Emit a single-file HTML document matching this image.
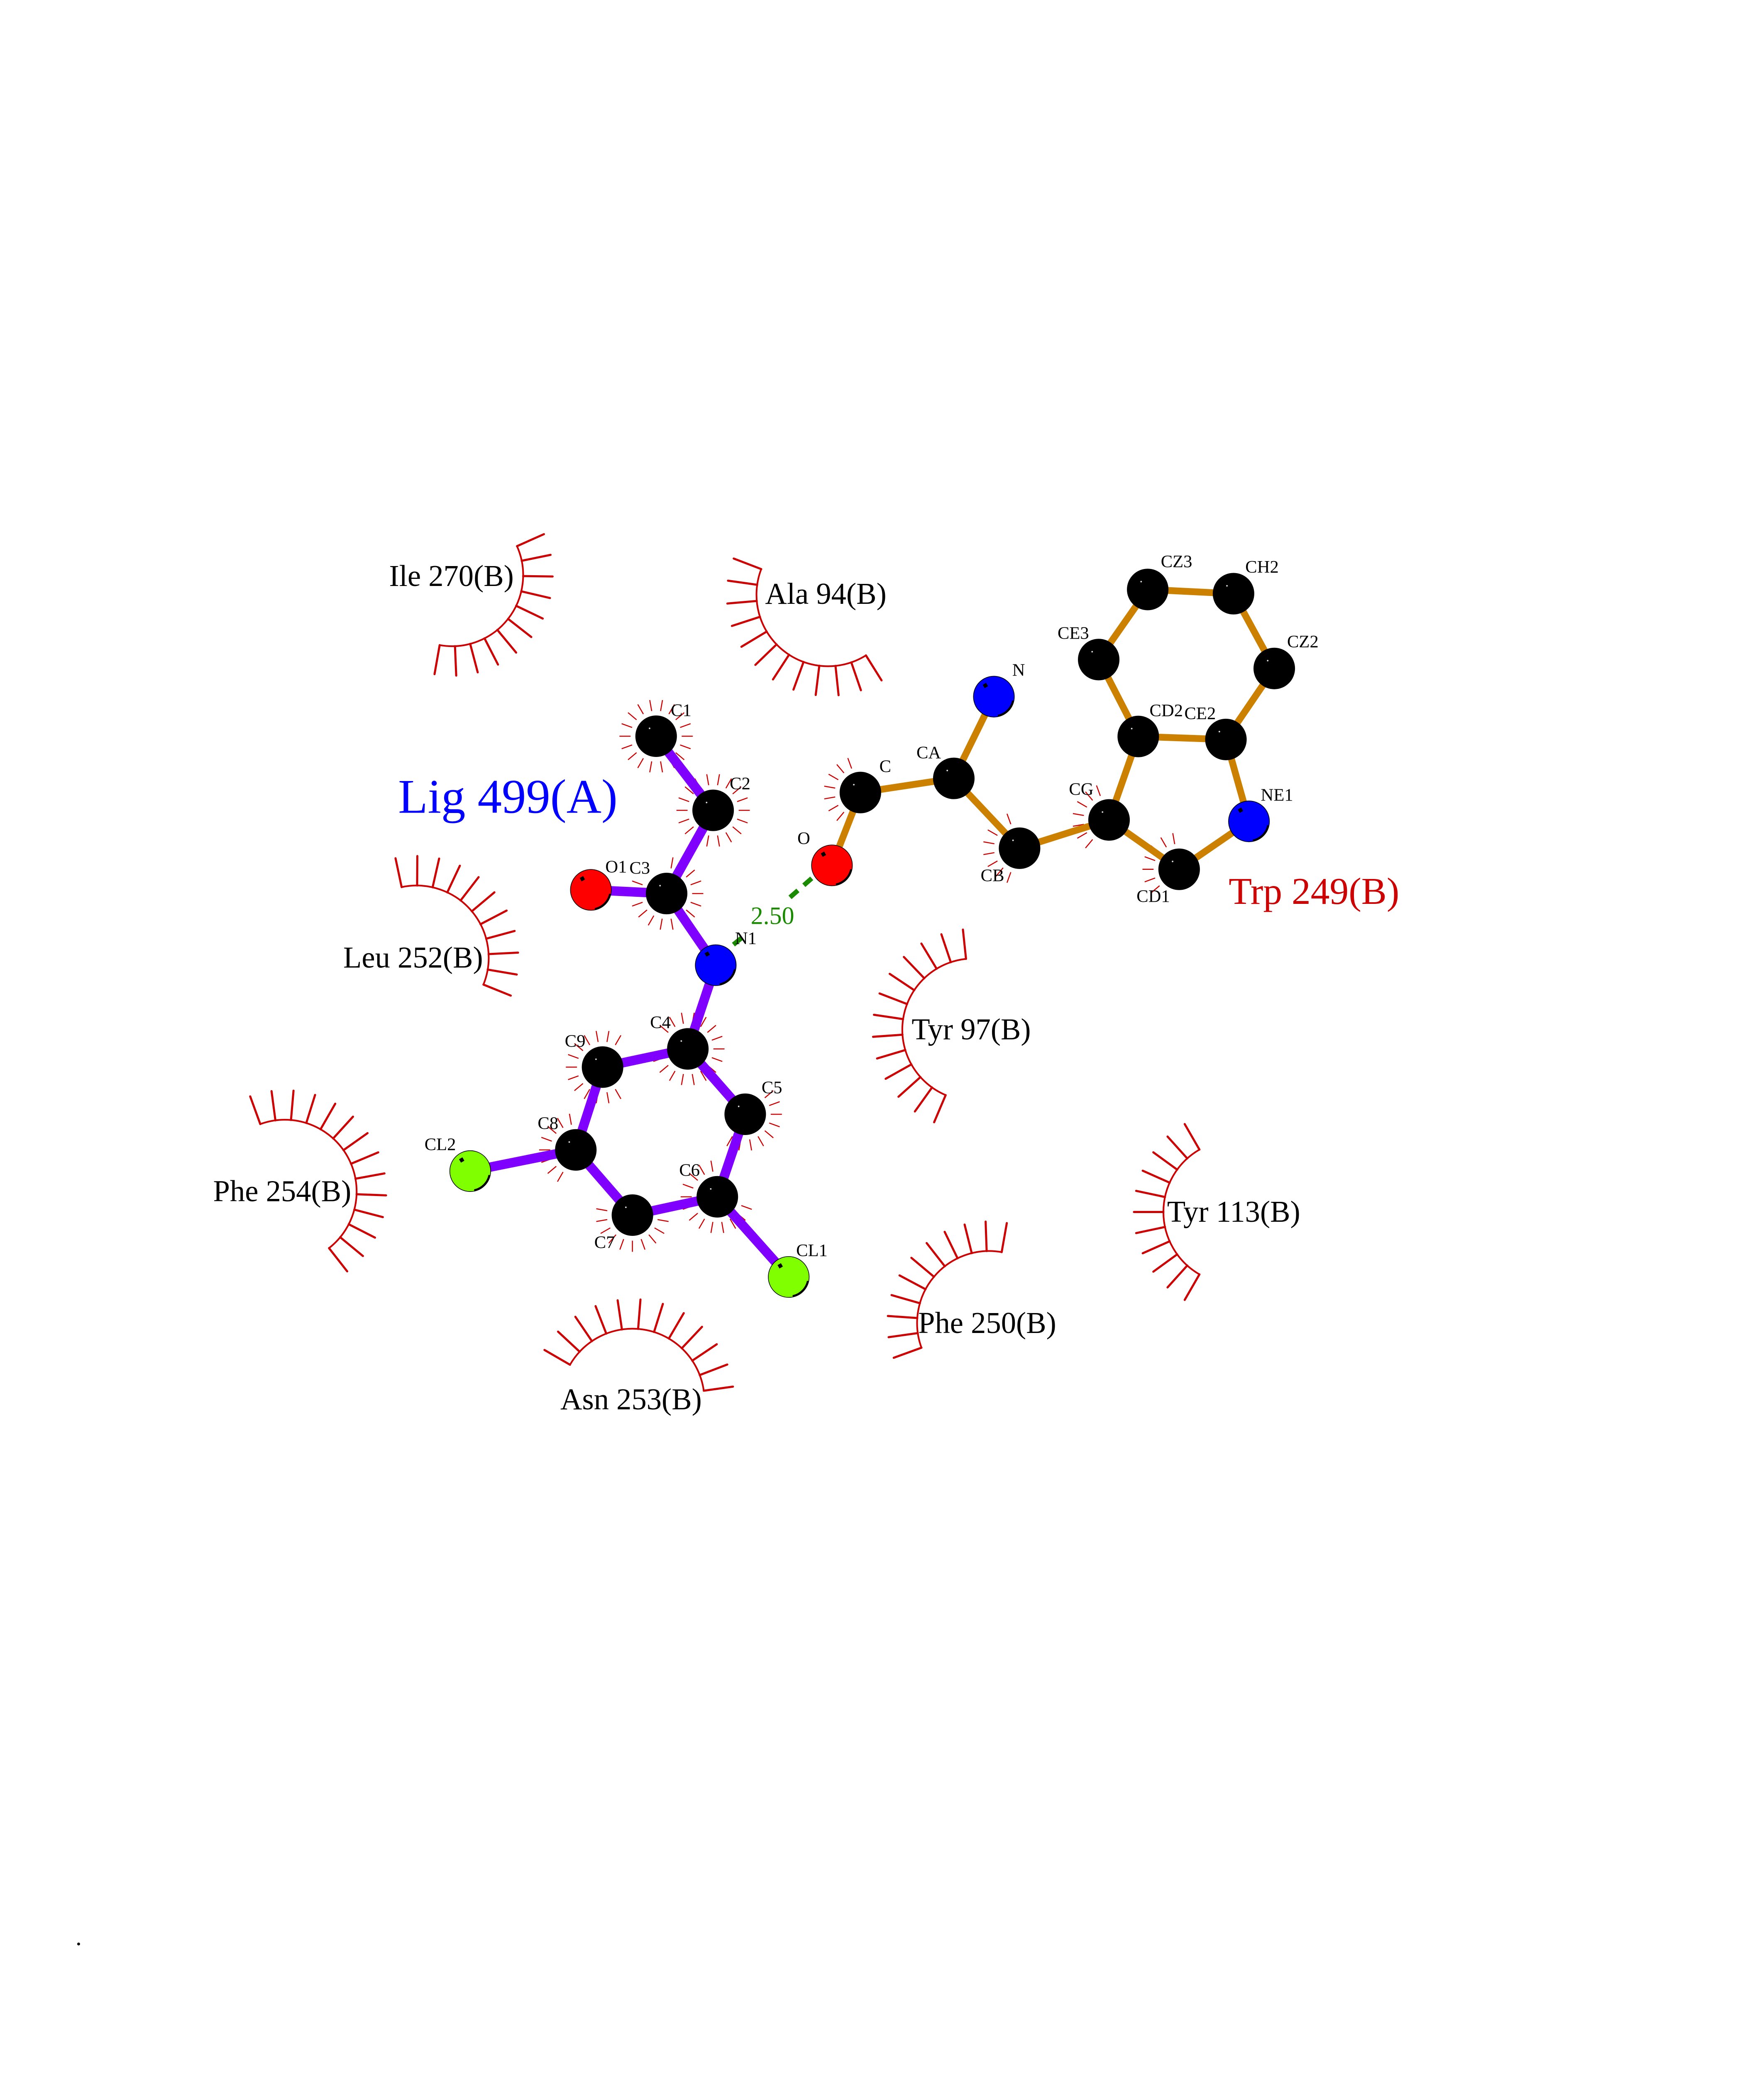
<!DOCTYPE html>
<html>
<head>
<meta charset="utf-8">
<style>
html,body{margin:0;padding:0;background:#fff;width:100%;height:100%;overflow:hidden;}
svg{position:fixed;left:0;top:0;height:100vh;width:77.2727vh;display:block;}
text{font-family:"Liberation Serif",serif;}
</style>
</head>
<body>
<svg id="s" xmlns="http://www.w3.org/2000/svg" viewBox="0 0 1224 1584" preserveAspectRatio="xMinYMin meet">
<rect x="0" y="0" width="1224" height="1584" fill="#fff"/>
<g id="arcs"></g>
<g id="spk"></g>
<g id="bonds"></g>
<line x1="549" y1="730" x2="566" y2="716" stroke="#1a8a00" stroke-width="3.6" stroke-dasharray="8,6"/>
<line x1="603" y1="685" x2="627" y2="664" stroke="#1a8a00" stroke-width="3.6" stroke-dasharray="8,6"/>
<g id="atoms"></g>
<g font-size="23" fill="#000">
<text x="297" y="447.3">Ile 270(B)</text>
<text x="584" y="461">Ala 94(B)</text>
<text x="262" y="738.7">Leu 252(B)</text>
<text x="695.8" y="793.5">Tyr 97(B)</text>
<text x="162.7" y="917">Phe 254(B)</text>
<text x="890.8" y="932.6">Tyr 113(B)</text>
<text x="700.8" y="1017.6">Phe 250(B)</text>
<text x="427.7" y="1075.8">Asn 253(B)</text>
</g>
<text x="303.9" y="620.5" font-size="37" fill="#0000ff">Lig 499(A)</text>
<text x="937.8" y="690" font-size="29" fill="#cc0000">Trp 249(B)</text>
<text x="573" y="705.3" font-size="19" fill="#1a8a00">2.50</text>
<g font-size="13.5" fill="#000">
<text x="512" y="546.6">C1</text>
<text x="557" y="602.5">C2</text>
<text x="462" y="666">O1</text>
<text x="480.4" y="667">C3</text>
<text x="561" y="720.8">N1</text>
<text x="496.2" y="784.9">C4</text>
<text x="431.1" y="799.2">C9</text>
<text x="581.3" y="834.6">C5</text>
<text x="410.4" y="861.8">C8</text>
<text x="324" y="878">CL2</text>
<text x="518.4" y="897.7">C6</text>
<text x="453.6" y="952.8">C7</text>
<text x="607.7" y="959">CL1</text>
<text x="608.6" y="644.3">O</text>
<text x="671.2" y="589.4">C</text>
<text x="699.5" y="579">CA</text>
<text x="772.6" y="515.9">N</text>
<text x="748.5" y="672.7">CB</text>
<text x="815.9" y="606.9">CG</text>
<text x="867.5" y="688.6">CD1</text>
<text x="877.4" y="546.8">CD2</text>
<text x="904" y="549">CE2</text>
<text x="962.3" y="611.2">NE1</text>
<text x="807.2" y="487.7">CE3</text>
<text x="886" y="433">CZ3</text>
<text x="950.5" y="437.2">CH2</text>
<text x="982.4" y="494.2">CZ2</text>
</g>
<circle cx="60" cy="1484" r="1.1" fill="#000"/>
</svg>
<script>
(function(){
var NS="http://www.w3.org/2000/svg";
function el(p,n,a){var e=document.createElementNS(NS,n);for(var k in a)e.setAttribute(k,a[k]);p.appendChild(e);return e;}
var A={
C1:[500.8,562,'c'],C2:[544.3,618.6,'c'],C3:[508.8,682.1,'c'],O1:[451,679.3,'o'],N1:[546.3,736.8,'n'],
C4:[525,800.7,'c'],C9:[459.9,814.6,'c'],C5:[568.8,850.6,'c'],C8:[439.5,877.8,'c'],CL2:[358.9,894,'cl'],
C6:[547.5,913.6,'c'],C7:[482.7,927.6,'c'],CL1:[602,974.8,'cl'],
N:[758.6,531.8,'n'],CA:[728,594.2,'c'],C:[656.7,605,'c'],O:[635,660.6,'o'],CB:[778.2,647.5,'c'],
CG:[846.5,625.9,'c'],CD1:[900,663.6,'c'],NE1:[953.3,627,'n'],CE2:[935.7,564.5,'c'],CD2:[868.8,562.2,'c'],
CE3:[838.6,503.5,'c'],CZ3:[876,450,'c'],CH2:[941.5,453.2,'c'],CZ2:[972.6,510.3,'c']};
var LB=[['C1','C2'],['C2','C3'],['C3','O1'],['C3','N1'],['N1','C4'],['C4','C9'],['C4','C5'],['C9','C8'],['C8','CL2'],['C8','C7'],['C7','C6'],['C6','C5'],['C6','CL1']];
var TB=[['N','CA'],['CA','C'],['C','O'],['CA','CB'],['CB','CG'],['CG','CD1'],['CD1','NE1'],['NE1','CE2'],['CE2','CD2'],['CD2','CG'],['CD2','CE3'],['CE3','CZ3'],['CZ3','CH2'],['CH2','CZ2'],['CZ2','CE2']];
var gb=document.getElementById('bonds');
LB.forEach(function(b){var p=A[b[0]],q=A[b[1]];el(gb,'line',{x1:p[0],y1:p[1],x2:q[0],y2:q[1],stroke:'#8000ff','stroke-width':7.2});});
TB.forEach(function(b){var p=A[b[0]],q=A[b[1]];el(gb,'line',{x1:p[0],y1:p[1],x2:q[0],y2:q[1],stroke:'#cc8000','stroke-width':5.2});});
var SP={C1:[0,340],C2:[0,340],C3:[-80,200],C9:[60,300],C4:[-140,160],C5:[-40,130],C8:[120,260],C6:[20,260],C7:[-10,200],C:[110,250],CB:[110,260],CG:[130,250],CD1:[140,260]};
var gs=document.getElementById('spk');
for(var k in SP){var a=A[k],r=SP[k];for(var t=r[0];t<=r[1]+0.1;t+=20){var rad=t*Math.PI/180,c=Math.cos(rad),s=Math.sin(rad);
el(gs,'line',{x1:a[0]+19.5*c,y1:a[1]+19.5*s,x2:a[0]+28*c,y2:a[1]+28*s,stroke:'#cc0000','stroke-width':0.8});}}
var COL={c:'#000',o:'#ff0000',n:'#0000ff',cl:'#80ff00'};
var ga=document.getElementById('atoms');
for(var k in A){var a=A[k];el(ga,'circle',{cx:a[0],cy:a[1],r:15.6,fill:COL[a[2]],stroke:'#000','stroke-width':0.5});
if(a[2]!='c'){el(ga,'path',{d:'M'+(a[0]+3)+','+(a[1]+14.5)+' A15,15 0 0 0 '+(a[0]+14.5)+','+(a[1]+3),fill:'none',stroke:'#000','stroke-width':1.2});
el(ga,'rect',{x:a[0]-8,y:a[1]-10,width:3,height:3,fill:'#000',transform:'rotate(-30 '+(a[0]-6.5)+' '+(a[1]-8.5)+')'});}
else{el(ga,'circle',{cx:a[0]-5,cy:a[1]-6,r:0.6,fill:'#ddd'});}}
var H=[[345,439,54.3,-24,100],[632,454,54.6,58,201],[318,731,55,-102,22],[743,786,54.3,113,264],
[217.4,909.6,54.8,-110,52],[943,925.2,55,120,240],[755,1010,55,160,280],[482.7,1069.3,55,210,352]];
var gh=document.getElementById('arcs');
H.forEach(function(h){var cx=h[0],cy=h[1],r=h[2],a0=h[3],a1=h[4];
var p0=[cx+r*Math.cos(a0*Math.PI/180),cy+r*Math.sin(a0*Math.PI/180)],p1=[cx+r*Math.cos(a1*Math.PI/180),cy+r*Math.sin(a1*Math.PI/180)];
el(gh,'path',{d:'M'+p0[0]+','+p0[1]+' A'+r+','+r+' 0 '+((a1-a0)>180?1:0)+' 1 '+p1[0]+','+p1[1],fill:'none',stroke:'#cc0000','stroke-width':1.3});
var n=Math.round((a1-a0)/12.5);var st=(a1-a0)/n;
for(var i=0;i<=n;i++){var t=(a0+i*st)*Math.PI/180,c=Math.cos(t),s=Math.sin(t);
el(gh,'line',{x1:cx+r*c,y1:cy+r*s,x2:cx+(r+22.5)*c,y2:cy+(r+22.5)*s,stroke:'#cc0000','stroke-width':1.6,'stroke-linecap':'round'});}});
})();
</script>
</body>
</html>
